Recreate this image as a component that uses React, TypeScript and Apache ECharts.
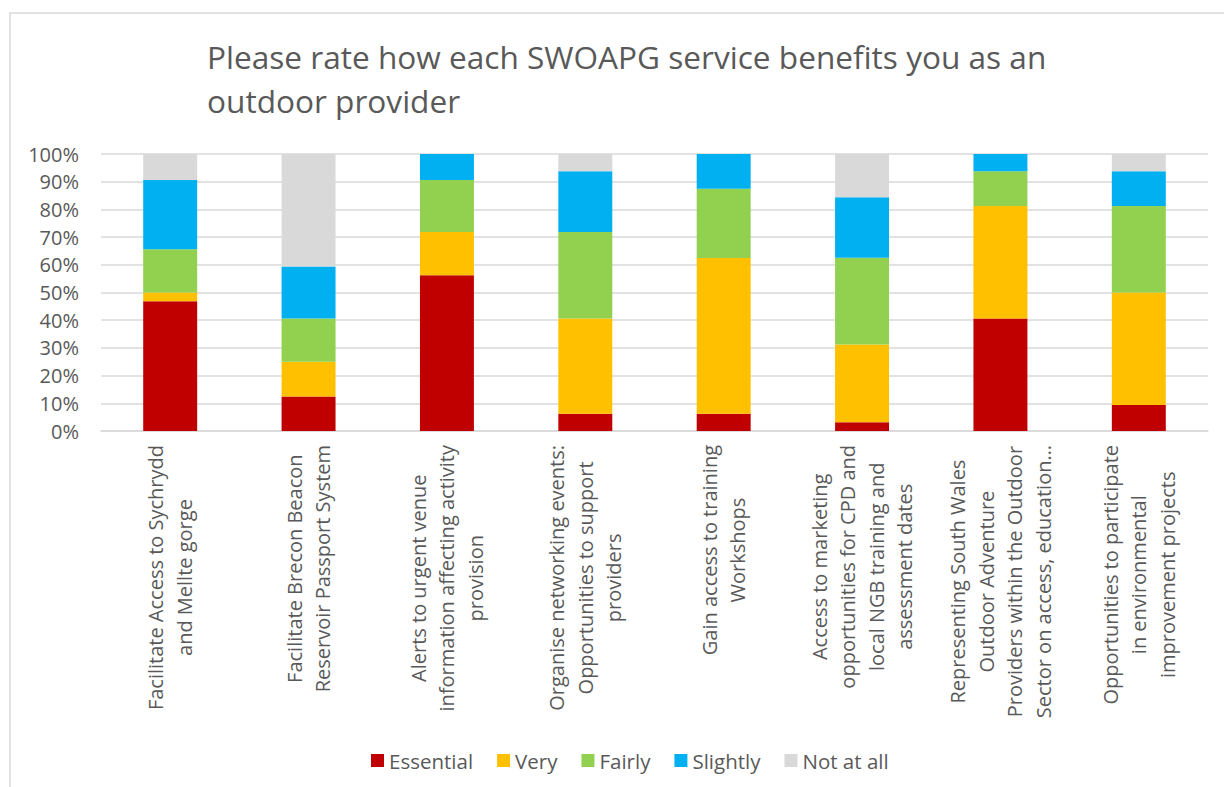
import React, { useEffect, useRef } from "react";
import * as echarts from "echarts";

const categories: string[][] = [
  ["Facilitate Access to Sychrydd", "and Mellte gorge"],
  ["Facilitate Brecon Beacon", "Reservoir Passport System"],
  ["Alerts to urgent venue", "information affecting activity", "provision"],
  ["Organise networking events:", "Opportunities to support", "providers"],
  ["Gain access to training", "Workshops"],
  ["Access to marketing", "opportunities for CPD and", "local NGB training and", "assessment dates"],
  ["Representing South Wales", "Outdoor Adventure", "Providers within the Outdoor", "Sector on access, education…"],
  ["Opportunities to participate", "in environmental", "improvement projects"],
];

const seriesNames = ["Essential", "Very", "Fairly", "Slightly", "Not at all"];
const essential = [46.88, 12.5, 56.25, 6.25, 6.25, 3.13, 40.63, 9.38];
const very = [3.13, 12.5, 15.63, 34.38, 56.25, 28.13, 40.63, 40.63];
const fairly = [15.63, 15.63, 18.75, 31.25, 25, 31.25, 12.5, 31.25];
const slightly = [25, 18.75, 9.38, 21.88, 12.5, 21.88, 6.25, 12.5];
const notAtAll = [9.38, 40.63, 0, 6.25, 0, 15.63, 0, 6.25];
const colors = ["#C00000", "#FFC000", "#92D050", "#00B0F0", "#D9D9D9"];
const titleText = "Please rate how each SWOAPG service benefits you as an\noutdoor provider";

const FONT = "'Open Sans', 'Noto Sans', sans-serif";
const GREY = "#595959";

export default function App() {
  const ref = useRef<HTMLDivElement>(null);
  useEffect(() => {
    if (!ref.current) return;
    const chart = echarts.init(ref.current, null, { renderer: "svg" });
    const dataSets = [essential, very, fairly, slightly, notAtAll];
    chart.setOption({
      animation: false,
      backgroundColor: "#ffffff",
      graphic: [
        {
          type: "rect",
          shape: { x: 10, y: 13, width: 1240, height: 800 },
          style: { fill: "none", stroke: "#D9D9D9", lineWidth: 1.5 },
          silent: true,
        },
      ],
      title: {
        text: titleText,
        left: 202,
        top: 29,
        textAlign: "left",
        textStyle: {
          fontFamily: FONT,
          fontSize: 31.6,
          fontWeight: "normal",
          color: GREY,
          lineHeight: 44,
          align: "left",
        },
      },
      legend: {
        data: seriesNames,
        top: 745,
        left: 366,
        icon: "rect",
        itemWidth: 13,
        itemHeight: 13,
        itemGap: 24,
        textStyle: { fontFamily: FONT, fontSize: 20.5, color: GREY },
      },
      grid: { left: 101, right: 16, top: 154, bottom: 356, containLabel: false },
      xAxis: {
        type: "category",
        data: categories.map((c) => c.join("\n")),
        axisLine: { lineStyle: { color: "#D9D9D9", width: 1.5 } },
        axisTick: { show: false },
        axisLabel: {
          rotate: 90,
          interval: 0,
          margin: 14,
          formatter: (v: string) =>
            v
              .split("\n")
              .map((l) => `{c|${l}}`)
              .join("\n"),
          rich: {
            c: {
              align: "center",
              fontFamily: FONT,
              fontSize: 20,
              lineHeight: 28.5,
              color: GREY,
            },
          },
        },
      },
      yAxis: {
        type: "value",
        min: 0,
        max: 100,
        interval: 10,
        axisLine: { show: false },
        axisTick: { show: false },
        splitLine: { lineStyle: { color: "#D9D9D9", width: 1.5 } },
        axisLabel: {
          formatter: "{value}%",
          margin: 22,
          fontFamily: FONT,
          fontSize: 20,
          color: GREY,
        },
      },
      series: seriesNames.map((name, i) => ({
        name,
        type: "bar",
        stack: "total",
        barWidth: "39%",
        data: dataSets[i],
        itemStyle: { color: colors[i] },
      })),
    });
    return () => chart.dispose();
  }, []);
  return (
    <div
      ref={ref}
      style={{ position: "fixed", left: 0, top: 0, width: 1224, height: 787 }}
    />
  );
}
